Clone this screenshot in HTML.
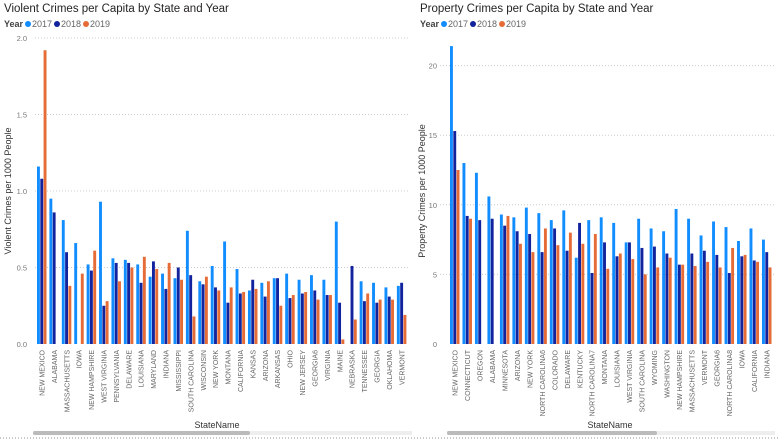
<!DOCTYPE html>
<html><head><meta charset="utf-8">
<style>
body{margin:0;background:#fff;width:780px;height:439px;overflow:hidden;font-family:"Liberation Sans",sans-serif}
svg text{font-family:"Liberation Sans",sans-serif}
</style></head>
<body>
<svg id="chart" width="780" height="439" xmlns="http://www.w3.org/2000/svg">
<g>
<text x="4" y="12" font-size="11.5" fill="#252423">Violent Crimes per Capita by State and Year</text>
<g font-size="9">
<text x="4" y="27" font-weight="bold" fill="#444">Year</text>
<circle cx="28" cy="24" r="3" fill="#118DFF"/><text x="32" y="27" fill="#666">2017</text>
<circle cx="57" cy="24" r="3" fill="#12239E"/><text x="61" y="27" fill="#666">2018</text>
<circle cx="86" cy="24" r="3" fill="#E66C37"/><text x="90" y="27" fill="#666">2019</text>
</g>
<text transform="translate(11,191) rotate(-90)" text-anchor="middle" font-size="9" fill="#333">Violent Crimes per 1000 People</text>
<text x="217" y="428" text-anchor="middle" font-size="9" fill="#333">StateName</text>
<rect x="33" y="431" width="379" height="4" fill="#eee"/>
<rect x="33" y="431" width="217" height="4" rx="2" fill="#bbb"/>
<g id="vplot"></g>
</g>
<g>
<text x="420" y="12" font-size="11.5" fill="#252423">Property Crimes per Capita by State and Year</text>
<g font-size="9">
<text x="420" y="27" font-weight="bold" fill="#444">Year</text>
<circle cx="444" cy="24" r="3" fill="#118DFF"/><text x="448" y="27" fill="#666">2017</text>
<circle cx="473" cy="24" r="3" fill="#12239E"/><text x="477" y="27" fill="#666">2018</text>
<circle cx="502" cy="24" r="3" fill="#E66C37"/><text x="506" y="27" fill="#666">2019</text>
</g>
<text transform="translate(425,191) rotate(-90)" text-anchor="middle" font-size="9" fill="#333">Property Crimes per 1000 People</text>
<text x="610" y="428" text-anchor="middle" font-size="9" fill="#333">StateName</text>
<rect x="447" y="431" width="328" height="4" fill="#eee"/>
<rect x="447" y="431" width="210" height="4" rx="2" fill="#bbb"/>
<g id="pplot"></g>
</g>
<line x1="0" y1="438" x2="780" y2="438" stroke="#999" stroke-dasharray="1,2"/>
</svg>
<script>
const vStates=["NEW MEXICO","ALABAMA","MASSACHUSETTS","IOWA","NEW HAMPSHIRE","WEST VIRGINIA","PENNSYLVANIA","DELAWARE","LOUISIANA","MARYLAND","INDIANA","MISSISSIPPI","SOUTH CAROLINA","WISCONSIN","NEW YORK","MONTANA","CALIFORNIA","KANSAS","ARIZONA","ARKANSAS","OHIO","NEW JERSEY","GEORGIA6","VIRGINIA","MAINE","NEBRASKA","TENNESSEE","GEORGIA","OKLAHOMA","VERMONT"];
const v2017=[1.16,0.95,0.81,0.66,0.52,0.93,0.56,0.55,0.52,0.44,0.46,0.43,0.74,0.41,0.51,0.67,0.49,0.35,0.40,0.43,0.46,0.42,0.45,0.42,0.80,null,0.41,0.40,0.37,0.38];
const v2018=[1.08,0.86,0.60,null,0.48,0.25,0.53,0.53,0.40,0.54,0.36,0.50,0.45,0.39,0.37,0.27,0.33,0.42,0.31,0.43,0.30,0.33,0.35,0.32,0.27,0.51,0.28,0.27,0.31,0.40];
const v2019=[1.92,null,0.38,0.46,0.61,0.28,0.41,0.50,0.57,0.49,0.53,0.42,0.18,0.44,0.35,0.37,0.34,0.36,0.41,0.25,0.32,0.34,0.29,0.32,0.03,0.16,0.33,0.29,0.29,0.19];
const vTicks=[0,0.5,1.0,1.5,2.0];
const pStates=["NEW MEXICO","CONNECTICUT","OREGON","ALABAMA","MINNESOTA","ARIZONA","NEW YORK","NORTH CAROLINA6","COLORADO","DELAWARE","KENTUCKY","NORTH CAROLINA7","MONTANA","LOUISIANA","WEST VIRGINIA","SOUTH CAROLINA","WYOMING","WASHINGTON","NEW HAMPSHIRE","MASSACHUSETTS","VERMONT","GEORGIA6","NORTH CAROLINA8","IOWA","CALIFORNIA","INDIANA"];
const p2017=[21.4,13.0,12.3,10.6,9.3,9.1,9.8,9.4,8.9,9.6,6.2,8.9,9.1,8.7,7.3,9.0,8.3,8.1,9.7,9.0,7.8,8.8,8.4,7.4,8.3,7.5];
const p2018=[15.3,9.2,8.9,9.0,8.5,8.1,7.9,6.6,8.3,6.7,8.7,5.1,7.3,6.3,7.3,6.9,7.0,6.5,5.7,6.5,6.7,6.4,5.1,6.3,6.0,6.6];
const p2019=[12.5,9.0,null,null,9.2,7.2,6.6,8.3,7.1,8.0,7.2,7.9,5.4,6.5,6.1,5.0,5.5,6.2,5.7,5.6,5.9,5.5,6.9,6.4,5.9,5.5];
const pTicks=[0,5,10,15,20];
const NS="http://www.w3.org/2000/svg";
const colors=["#118DFF","#12239E","#E66C37"];
function mk(tag,attrs,parent){const e=document.createElementNS(NS,tag);for(const k in attrs)e.setAttribute(k,attrs[k]);parent.appendChild(e);return e;}
function draw(g,cfg){
  const y=v=>cfg.y0-(v/cfg.max)*(cfg.y0-cfg.yTop);
  const x=i=>cfg.x0+i*cfg.step;
  cfg.ticks.forEach(t=>{
    const yy=y(t);
    if(t>0){const gl=mk("line",{x1:cfg.gx1,x2:cfg.gx2,y1:yy,y2:yy,stroke:"#ccc","stroke-dasharray":"1,2"},g);
    
    }
    const tx=mk("text",{x:cfg.tickX,y:yy+3,"text-anchor":"end","font-size":"7.5",fill:"#777"},g);
    tx.textContent=cfg.fmt(t);
    
    
  });
  cfg.series.forEach((s,si)=>{
    s.forEach((v,i)=>{
      if(v==null)return;
      const r=mk("rect",{x:x(i)+si*cfg.bw,y:y(v),width:cfg.bw-0.4,height:cfg.y0-y(v),fill:colors[si]},g);
      
      
    });
  });
  cfg.names.forEach((n,i)=>{
    const cx=x(i)+cfg.bw*1.5+2.5;
    const t=mk("text",{transform:"translate("+cx+","+(cfg.y0+6)+") rotate(-90)","text-anchor":"end","font-size":"7",fill:"#666"},g);
    t.textContent=n;
    
    
  });
}
draw(document.getElementById("vplot"),{y0:344,yTop:38,max:2,x0:37,step:12.41,bw:3.3,gx1:35,gx2:410,tickX:27,ticks:vTicks,fmt:t=>t.toFixed(1),series:[v2017,v2018,v2019],names:vStates});
draw(document.getElementById("pplot"),{y0:344,yTop:65.6,max:20,x0:450,step:12.48,bw:3.3,gx1:440,gx2:775,tickX:437,ticks:pTicks,fmt:t=>String(t),series:[p2017,p2018,p2019],names:pStates});
</script>
</body></html>
